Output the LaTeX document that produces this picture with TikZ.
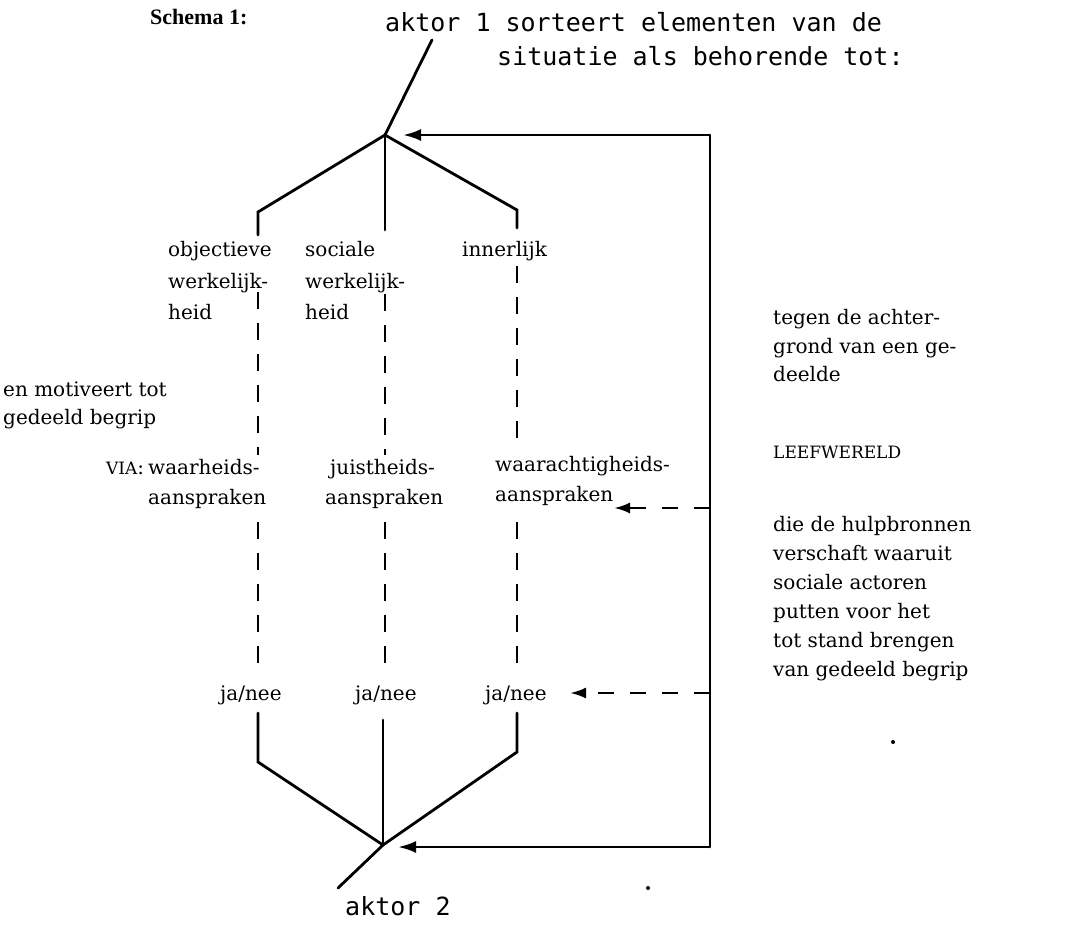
\documentclass[tikz,border=0pt]{standalone}
\usepackage{fontspec}
\setmainfont{DejaVu Serif}
\newfontfamily\monof{DejaVu Sans Mono}
\newfontfamily\titlef{Liberation Serif}
\usetikzlibrary{arrows.meta}
\newcommand{\smallcapsx}[1]{{\fontsize{17}{18}\selectfont #1}}
\begin{document}
\begin{tikzpicture}[x=1pt,y=-1pt,
  txt/.style={anchor=base west, inner sep=0pt, font=\fontsize{20}{29}\selectfont},
  mono/.style={anchor=base west, inner sep=0pt, font=\monof\fontsize{25}{30}\selectfont},
  ln/.style={line width=2.8pt, line cap=round, line join=miter},
  dsh/.style={line width=2.3pt, dash pattern=on 17pt off 14pt},
  arr/.style={line width=2.8pt, -{Latex[length=18pt,width=12pt]}},
  darr/.style={line width=2.6pt, dash pattern=on 16pt off 16pt, -{Latex[length=16pt,width=11pt]}}
]
\useasboundingbox[fill=white] (0,0) rectangle (1083,924);

% title and top text
\node[anchor=base west, inner sep=0pt, font=\titlef\bfseries\fontsize{22}{24}\selectfont] (title) at (150,24) {Schema 1:};
\node[mono] (a1a) at (385,31) {aktor 1 sorteert elementen van de};
\node[mono] (a1b) at (497,65) {situatie als behorende tot:};

% top tree
\coordinate (A1) at (432,40);
\coordinate (T) at (385,135);
\coordinate (TL) at (258,212);
\coordinate (TLd) at (258,235);
\coordinate (TC) at (385,230);
\coordinate (TR) at (517,210);
\coordinate (TRd) at (517,228);
\draw[ln] (A1) -- (T);
\draw[ln] (TLd) -- (TL) -- (T) -- (TR) -- (TRd);
\draw[ln] (T) -- (TC);

% column labels
\node[txt] (obj1) at (168,256) {objectieve};
\node[txt] (obj2) at (168,288) {werkelijk-};
\node[txt] (obj3) at (168,319) {heid};
\node[txt] (soc1) at (305,256) {sociale};
\node[txt] (soc2) at (305,288) {werkelijk-};
\node[txt] (soc3) at (305,319) {heid};
\node[txt] (inn) at (462,256) {innerlijk};

\node[txt] (mot1) at (3,396) {en motiveert tot};
\node[txt] (mot2) at (3,424) {gedeeld begrip};

\node[txt] (via) at (106,474) {\smallcapsx{VIA}:};
\node[txt] (wh1) at (148,474) {waarheids-};
\node[txt] (wh2) at (148,504) {aanspraken};
\node[txt] (jh1) at (330,474) {juistheids-};
\node[txt] (jh2) at (325,504) {aanspraken};
\node[txt] (wa1) at (495,471) {waarachtigheids-};
\node[txt] (wa2) at (495,501) {aanspraken};

\node[txt] (jn1) at (220,700) {ja/nee};
\node[txt] (jn2) at (355,700) {ja/nee};
\node[txt] (jn3) at (485,700) {ja/nee};

% dashed verticals
\draw[dsh] (258,292) -- (258,455);
\draw[dsh] (258,522) -- (258,665);
\draw[dsh] (385,294) -- (385,455);
\draw[dsh] (385,522) -- (385,665);
\draw[dsh] (517,266) -- (517,450);
\draw[dsh] (517,522) -- (517,665);

% bottom tree
\coordinate (B) at (383,845);
\coordinate (BLu) at (258,713);
\coordinate (BL) at (258,762);
\coordinate (BC) at (383,720);
\coordinate (BRu) at (517,713);
\coordinate (BR) at (517,752);
\coordinate (A2) at (338,888);
\draw[ln] (BLu) -- (BL) -- (B) -- (BR) -- (BRu);
\draw[ln] (BC) -- (B);
\draw[ln] (B) -- (A2);
\node[mono] (a2) at (345,915) {aktor 2};

% feedback loop
\coordinate (RT) at (710,135);
\coordinate (RB) at (710,847);
\coordinate (RM1) at (710,508);
\coordinate (RM2) at (710,693);
\coordinate (W1) at (614,508);
\coordinate (W2) at (570,693);
\draw[ln] (RT) -- (RB);
\draw[arr] (RT) -- (403,135);
\draw[arr] (RB) -- (398,847);
\draw[darr] (RM1) -- (W1);
\draw[darr] (RM2) -- (W2);

% right text
\node[txt] (r1) at (773,324) {tegen de achter-};
\node[txt] (r2) at (773,353) {grond van een ge-};
\node[txt] (r3) at (773,381) {deelde};
\node[txt] (lw) at (773,458) {\smallcapsx{LEEFWERELD}};
\node[txt] (r4) at (773,531) {die de hulpbronnen};
\node[txt] (r5) at (773,560) {verschaft waaruit};
\node[txt] (r6) at (773,589) {sociale actoren};
\node[txt] (r7) at (773,618) {putten voor het};
\node[txt] (r8) at (773,647) {tot stand brengen};
\node[txt] (r9) at (773,676) {van gedeeld begrip};

\fill (893,742) circle (2pt);
\fill (648,888) circle (2pt);
\end{tikzpicture}
\end{document}
